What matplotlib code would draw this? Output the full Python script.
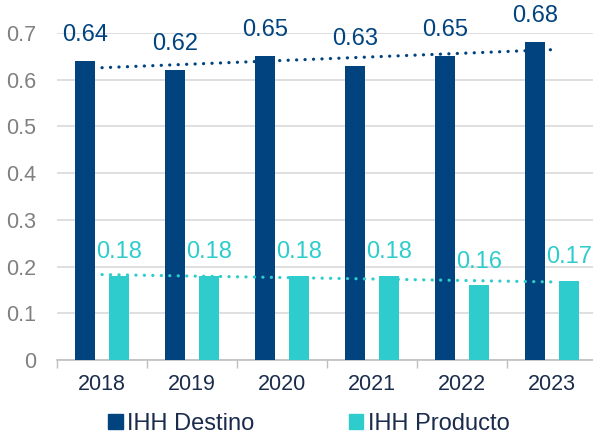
import numpy as np
import matplotlib
matplotlib.use("Agg")
import matplotlib.pyplot as plt
from matplotlib.patches import Patch

plt.rcParams['font.family'] = ['Liberation Sans', 'DejaVu Sans']

# --- data ---
years = ["2018", "2019", "2020", "2021", "2022", "2023"]
ihh_destino = [0.64, 0.62, 0.65, 0.63, 0.65, 0.68]
ihh_producto = [0.18, 0.18, 0.18, 0.18, 0.16, 0.17]
series_names = ["IHH Destino", "IHH Producto"]
y_ticks = [0, 0.1, 0.2, 0.3, 0.4, 0.5, 0.6, 0.7]

DARK = "#00437F"
TEAL = "#2ECCCC"
NAVY_TXT = "#1A2B4C"
GRAY_TXT = "#808080"

fig = plt.figure(figsize=(5.93, 4.36), dpi=100)
ax = fig.add_axes([57/593, 76/436, 540/593, 327/436])

x = np.arange(len(years))
bw, off = 0.217, 0.19

ax.bar(x - off, ihh_destino, bw, color=DARK, zorder=3)
ax.bar(x + off, ihh_producto, bw, color=TEAL, zorder=3)

# data labels
for xi, v in zip(x, ihh_destino):
    ax.annotate(f"{v:.2f}", (xi - off, v), xytext=(0, 11), textcoords="offset points",
                ha="center", va="bottom", fontsize=17, color=DARK, annotation_clip=False)
for xi, v in zip(x, ihh_producto):
    ax.annotate(f"{v:.2f}", (xi + off, v), xytext=(0, 9), textcoords="offset points",
                ha="center", va="bottom", fontsize=17, color=TEAL, annotation_clip=False)

# linear trend lines (Excel style)
for vals, col in [(ihh_destino, DARK), (ihh_producto, TEAL)]:
    k, b = np.polyfit(x, vals, 1)
    ax.plot(x, k * x + b, color=col, lw=2.3, linestyle=(0, (0.05, 2.6)),
            dash_capstyle="round", solid_capstyle="round", zorder=4, clip_on=False)

ax.set_ylim(0, 0.7)
ax.set_xlim(-0.5, len(years) - 0.5)
ax.set_yticks(y_ticks)
ax.set_yticklabels(["0" if t == 0 else f"{t:.1f}" for t in y_ticks])
ax.tick_params(axis="y", length=0, pad=15, labelsize=15.5, labelcolor=GRAY_TXT)
ax.yaxis.grid(True, color="#D9D9D9", lw=1.2, zorder=0)

# boundary ticks + centered labels
ax.set_xticks(np.arange(-0.5, len(years) + 0.5, 1.0))
ax.set_xticklabels([])
ax.tick_params(axis="x", which="major", length=6, color="#BFBFBF", width=1)
ax.set_xticks(x, minor=True)
ax.set_xticklabels(years, minor=True)
ax.tick_params(axis="x", which="minor", length=0, pad=10, labelsize=15.5, labelcolor=NAVY_TXT)

for s in ["top", "right", "left"]:
    ax.spines[s].set_visible(False)
ax.spines["bottom"].set_color("#BFBFBF")
ax.spines["bottom"].set_linewidth(1.2)

handles = [Patch(color=DARK), Patch(color=TEAL)]
fig.legend(handles, series_names, loc="center", bbox_to_anchor=(309/593, 12/436),
           ncol=2, frameon=False, fontsize=17, handlelength=0.6, handleheight=0.6,
           handletextpad=0.2, columnspacing=4.0, labelcolor=NAVY_TXT)

fig.savefig("out.png", dpi=100)
